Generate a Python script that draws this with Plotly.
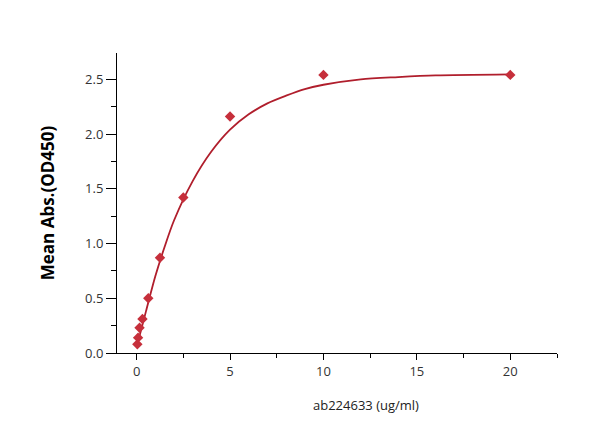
import plotly.graph_objects as go

# measured points
conc = [0.039, 0.078, 0.156, 0.3125, 0.625, 1.25, 2.5, 5, 10, 20]
od450 = [0.08, 0.14, 0.23, 0.31, 0.50, 0.87, 1.42, 2.16, 2.54, 2.54]

# fitted curve
fit_x = [0.04, 0.5, 1, 1.5, 2, 3, 4, 5, 6, 7, 8, 9, 10, 12, 14, 16, 20]
fit_y = [0.08, 0.38, 0.70, 0.97, 1.21, 1.57, 1.84, 2.04, 2.18, 2.28, 2.35, 2.41, 2.45, 2.50, 2.52, 2.535, 2.545]

x_ticks = [0, 5, 10, 15, 20]
y_ticks = [0.0, 0.5, 1.0, 1.5, 2.0, 2.5]

red_line = '#b01e2c'
red_pt = '#c62f3b'
tick_font = dict(family='Open Sans', size=13, color='#333333')

fig = go.Figure()
fig.add_trace(go.Scatter(x=fit_x, y=fit_y, mode='lines', line_shape='spline',
                         line=dict(color=red_line, width=1.8, smoothing=0.8), hoverinfo='skip'))
fig.add_trace(go.Scatter(x=conc, y=od450, mode='markers',
                         marker=dict(symbol='diamond', size=8, color=red_pt)))

fig.update_xaxes(range=[-1.05, 22.5], tickvals=x_ticks,
                 ticktext=[str(v) for v in x_ticks],
                 showline=True, linecolor='black', linewidth=1,
                 ticks='outside', ticklen=6, tickcolor='black',
                 minor=dict(ticks='outside', ticklen=4, dtick=2.5, tick0=0, tickcolor='black'),
                 showgrid=False, zeroline=False, tickfont=tick_font)
fig.update_yaxes(range=[0, 2.74], tickvals=y_ticks,
                 ticktext=['%.1f' % v for v in y_ticks],
                 showline=True, linecolor='black', linewidth=1,
                 ticks='outside', ticklen=10, tickcolor='black',
                 minor=dict(ticks='outside', ticklen=5, dtick=0.25, tick0=0, tickcolor='black'),
                 showgrid=False, zeroline=False, tickfont=tick_font,
                 title=dict(text='<b>Mean Abs.(OD450)</b>', standoff=26,
                            font=dict(family='Open Sans', size=17, color='black')))

fig.add_annotation(text='ab224633 (ug/ml)', xref='paper', yref='paper',
                   x=(366 - 117) / 440, y=-52 / 300, xanchor='center', yanchor='middle',
                   showarrow=False, font=dict(family='Open Sans', size=13, color='#222222'))

fig.update_layout(width=600, height=434, showlegend=False,
                  plot_bgcolor='white', paper_bgcolor='white',
                  margin=dict(l=109, r=51, t=45, b=89))

fig.write_html('out.html')
